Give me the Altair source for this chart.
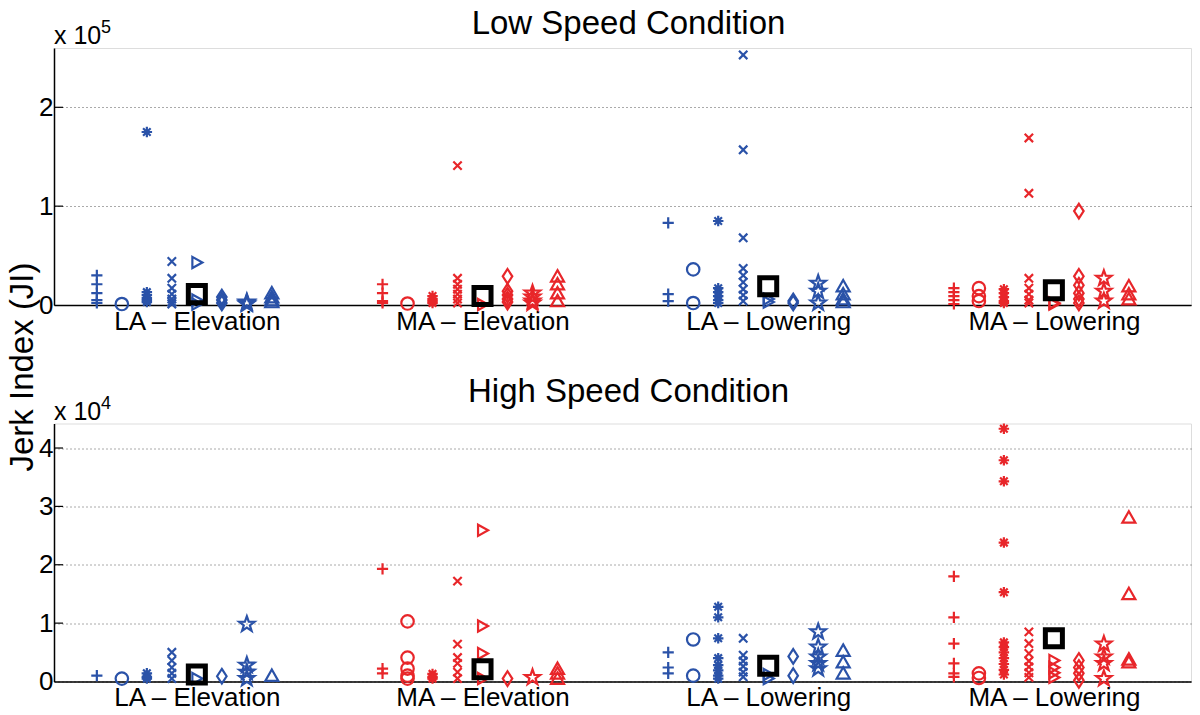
import json
import math
import altair as alt
import pandas as pd

# ---------------- data ----------------
GROUPS = ["LA – Elevation", "MA – Elevation", "LA – Lowering", "MA – Lowering"]
ARMS = ["LA", "MA", "LA", "MA"]
MARKERS = ["plus", "circle", "asterisk", "cross", "tri_right", "diamond", "star", "tri_up"]

LOW_TITLE = "Low Speed Condition"
HIGH_TITLE = "High Speed Condition"
Y_TITLE = "Jerk Index (JI)"
LOW_EXP = "5"
HIGH_EXP = "4"
LOW_TICKS = [0, 100000, 200000]
HIGH_TICKS = [0, 10000, 20000, 30000, 40000]
LOW_MAX = 260000
HIGH_MAX = 44200

LOW_LA_ELEV = {
    "plus": [30000, 21000, 12000, 5000, 2000],
    "circle": [1000],
    "asterisk": [175000, 13000, 10000, 7000, 5000, 3000],
    "cross": [44000, 27000, 17000, 11000, 6000, 3000, 1000],
    "tri_right": [43000, 5000, 1000],
    "diamond": [8000, 5000, 2000],
    "star": [3000, 2000, 1000],
    "tri_up": [12000, 8000, 5000, 3000],
}
LOW_MA_ELEV = {
    "plus": [21000, 12000, 4000, 2000],
    "circle": [1500],
    "asterisk": [9000, 6000, 4000, 2000],
    "cross": [141000, 27000, 21000, 16000, 11000, 6000, 2000],
    "tri_right": [500],
    "diamond": [29000, 14000, 10000, 6000, 3000],
    "star": [12000, 8000, 4000, 2000],
    "tri_up": [29000, 21000, 12000, 4000],
}
LOW_LA_LOW = {
    "plus": [83000, 11000, 4000],
    "circle": [36000, 2000],
    "asterisk": [85000, 17000, 13000, 9000, 5000, 2000],
    "cross": [253000, 157000, 68000, 37000, 30000, 23000, 16000, 10000, 4000],
    "tri_right": [6000, 3000],
    "diamond": [4000, 2000],
    "star": [22000, 14000, 2000],
    "tri_up": [19000, 11000, 6000, 3000],
}
LOW_MA_LOW = {
    "plus": [17000, 13000, 9000, 5000, 1000],
    "circle": [17000, 9000, 4000],
    "asterisk": [16000, 12000, 8000, 4000, 2000],
    "cross": [169000, 113000, 27000, 17000, 11000, 5000, 2000],
    "tri_right": [2000, 1000],
    "diamond": [95000, 29000, 20000, 12000, 6000, 2000],
    "star": [27000, 14000, 4000],
    "tri_up": [19000, 11000, 6000],
}
HIGH_LA_ELEV = {
    "plus": [1000],
    "circle": [500],
    "asterisk": [1400, 800, 500],
    "cross": [5000, 3600, 2400, 1400, 500],
    "tri_right": [500],
    "diamond": [900],
    "star": [9800, 2800, 1600, 500],
    "tri_up": [1000],
}
HIGH_MA_ELEV = {
    "plus": [19300, 2200, 1400],
    "circle": [10300, 4100, 2200, 1000, 500],
    "asterisk": [1300, 800, 500],
    "cross": [17200, 6400, 4100, 3100, 1600, 500],
    "tri_right": [25900, 9500, 4800, 500],
    "diamond": [500],
    "star": [700],
    "tri_up": [2200, 1400, 500],
}
HIGH_LA_LOW = {
    "plus": [5000, 2400, 1400],
    "circle": [7200, 1000],
    "asterisk": [12800, 11000, 7400, 4000, 2800, 1900, 1000, 500],
    "cross": [7400, 4500, 3500, 2600, 1600, 800],
    "tri_right": [1200, 500],
    "diamond": [4300, 1000],
    "star": [8500, 5900, 4200, 3100, 2200],
    "tri_up": [5300, 3300, 1400],
}
HIGH_MA_LOW = {
    "plus": [18000, 11000, 6500, 3100, 1400, 800],
    "circle": [1400, 600],
    "asterisk": [43300, 37900, 34300, 23800, 15300, 6700, 5900, 5000, 4000, 3000, 2000, 1200],
    "cross": [8500, 6500, 4800, 3500, 2500, 1500, 700],
    "tri_right": [3600, 2400, 1500, 700],
    "diamond": [3600, 2400, 1400, 200],
    "star": [6400, 4200, 3100, 500],
    "tri_up": [28100, 15000, 3800, 3300],
}
LOW_MEANS = [11000, 9000, 19000, 15000]
HIGH_MEANS = [1200, 2100, 2700, 7400]

LOW_DATA = [LOW_LA_ELEV, LOW_MA_ELEV, LOW_LA_LOW, LOW_MA_LOW]
HIGH_DATA = [HIGH_LA_ELEV, HIGH_MA_ELEV, HIGH_LA_LOW, HIGH_MA_LOW]

# ---------------- styles ----------------
FONT = "Liberation Sans"
BLUE = "#2a52a8"
RED = "#e8262a"
SLOT = {"plus": -4, "circle": -3, "asterisk": -2, "cross": -1, "tri_right": 0,
        "diamond": 1, "star": 2, "tri_up": 3}
STEP = 0.0875


def star_path():
    pts = []
    for k in range(10):
        r = 1.0 if k % 2 == 0 else 0.4
        a = math.radians(-90 + 36 * k)
        pts.append("%.3f,%.3f" % (r * math.cos(a), r * math.sin(a)))
    return "M" + "L".join(pts) + "Z"


SHAPES = {
    "plus": "M-1,0L1,0M0,-1L0,1",
    "circle": "circle",
    "asterisk": "M-1,0L1,0M0,-1L0,1M-0.72,-0.72L0.72,0.72M-0.72,0.72L0.72,-0.72",
    "cross": "M-1,-1L1,1M-1,1L1,-1",
    "tri_right": "M-0.8,-1L1,0L-0.8,1Z",
    "diamond": "M0,-1L0.65,0L0,1L-0.65,0Z",
    "star": star_path(),
    "tri_up": "M0,-0.95L1,0.8L-1,0.8Z",
}
SIZES = {"plus": 125, "circle": 155, "asterisk": 110, "cross": 70, "tri_right": 125,
         "diamond": 215, "star": 260, "tri_up": 170}

W = 1137


def build_df(groups_data):
    rows = []
    for gi, gd in enumerate(groups_data):
        for m, vals in gd.items():
            for v in vals:
                rows.append({"group": gi + 1, "arm": ARMS[gi], "marker": m,
                             "x": gi + 1 + SLOT[m] * STEP, "value": v})
    return pd.DataFrame(rows)


labels_js = json.dumps(GROUPS, ensure_ascii=False)


def panel(groups_data, means, ymax, ticks, exp, title, title_y, height, divisor, with_ytitle):
    df = build_df(groups_data)
    mdf = pd.DataFrame({"x": [1, 2, 3, 4], "value": means})
    tdf = pd.DataFrame({"value": [t for t in ticks if t > 0]})

    xenc = alt.X("x:Q", scale=alt.Scale(domain=[0.5, 4.48], nice=False, zero=False),
                 axis=alt.Axis(values=[1, 2, 3, 4], labelExpr=labels_js + "[datum.value - 1]",
                               ticks=False, grid=False, domainColor="black", domainWidth=1.5,
                               labelFontSize=26, labelFont=FONT, labelColor="black",
                               labelPadding=3, title=None, labelFlush=False))
    yenc = alt.Y("value:Q", scale=alt.Scale(domain=[0, ymax], nice=False, zero=True),
                 axis=alt.Axis(values=ticks, labelExpr="datum.value / %d" % divisor,
                               ticks=False, grid=True, gridColor="#555", gridDash=[1, 3],
                               gridWidth=1, domainColor="black", domainWidth=1.5,
                               labelFontSize=26, labelFont=FONT, labelColor="black",
                               labelPadding=1, title=None, labelFlush=False))
    colour = alt.Color("arm:N", scale=alt.Scale(domain=["LA", "MA"], range=[BLUE, RED]),
                       legend=None)

    layers = []
    base = alt.Chart(df)
    for m in MARKERS:
        layers.append(
            base.transform_filter(alt.datum.marker == m)
            .mark_point(shape=SHAPES[m], size=SIZES[m], filled=False, strokeWidth=2.2, opacity=1)
            .encode(x=xenc, y=yenc, color=colour)
        )
    layers.append(
        alt.Chart(mdf).mark_point(shape="square", size=290, filled=False, strokeWidth=5,
                                  color="black", opacity=1)
        .encode(x=xenc, y=yenc)
    )
    layers.append(
        alt.Chart(tdf).mark_rule(color="black", strokeWidth=1.2)
        .encode(y=yenc, x=alt.value(0), x2=alt.value(9))
    )
    layers.append(
        alt.Chart(pd.DataFrame({"t": [title]})).mark_text(
            font=FONT, fontSize=33, align="center", baseline="alphabetic", color="black")
        .encode(x=alt.value(W / 2 + 6), y=alt.value(title_y), text="t:N")
    )
    layers.append(
        alt.Chart(pd.DataFrame({"t": ["x 10"]})).mark_text(
            font=FONT, fontSize=25, align="left", baseline="alphabetic", color="black")
        .encode(x=alt.value(0), y=alt.value(-4), text="t:N")
    )
    layers.append(
        alt.Chart(pd.DataFrame({"t": [exp]})).mark_text(
            font=FONT, fontSize=18, align="left", baseline="alphabetic", color="black")
        .encode(x=alt.value(47), y=alt.value(-15), text="t:N")
    )
    if with_ytitle:
        layers.append(
            alt.Chart(pd.DataFrame({"t": [Y_TITLE]})).mark_text(
                font=FONT, fontSize=33, align="center", baseline="alphabetic", angle=270,
                color="black")
            .encode(x=alt.value(-21), y=alt.value(319), text="t:N")
        )
    return alt.layer(*layers).properties(width=W, height=height)


top = panel(LOW_DATA, LOW_MEANS, LOW_MAX, LOW_TICKS, LOW_EXP, LOW_TITLE, -14.5, 257,
            100000, True)
bottom = panel(HIGH_DATA, HIGH_MEANS, HIGH_MAX, HIGH_TICKS, HIGH_EXP, HIGH_TITLE, -22, 258,
               10000, False)

chart = (
    alt.vconcat(top, bottom, spacing=118.5, bounds="flush")
    .properties(padding={"left": -2, "top": -1, "right": 0, "bottom": 0})
    .configure_view(stroke=None)
    .configure(background="white")
)

chart.save("out.html", embed_options={"renderer": "svg", "actions": False})
